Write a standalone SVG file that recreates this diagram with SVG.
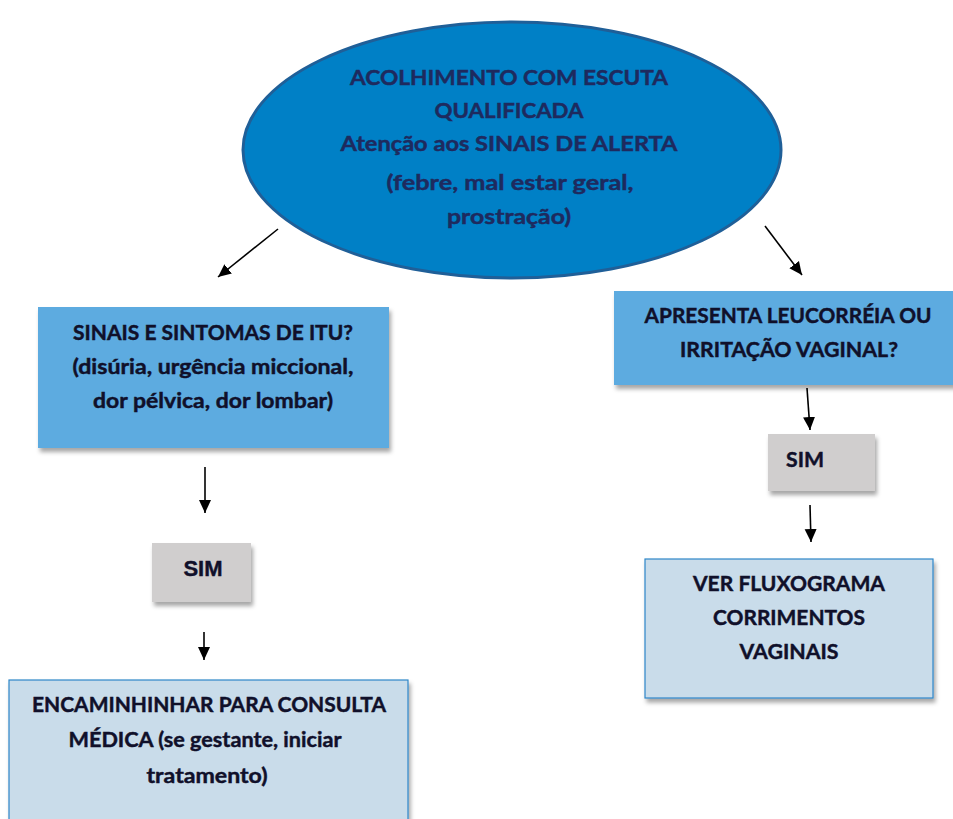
<svg xmlns="http://www.w3.org/2000/svg" width="953" height="819" viewBox="0 0 953 819">
  <defs>
    <filter id="sh" x="-10%" y="-10%" width="130%" height="140%">
      <feDropShadow dx="2" dy="4" stdDeviation="2" flood-color="#000" flood-opacity="0.35"/>
    </filter>
    <marker id="ah" markerUnits="userSpaceOnUse" markerWidth="14" markerHeight="14" viewBox="0 0 14 14" refX="13" refY="7" orient="auto">
      <path d="M0,1 L13,7 L0,13 Z" fill="#000"/>
    </marker>
  </defs>
  <style>
    .t { font-family: Lato, "Liberation Sans", sans-serif; font-weight: bold; font-size: 21.5px; text-anchor: middle; stroke-width: 0.45px; }
    .el { fill: #1e2a5e; stroke: #1e2a5e; }
    .bx { fill: #10102a; stroke: #10102a; }
    .conn line { stroke: #000; stroke-width: 1.6; marker-end: url(#ah); }
    .q { fill: #5dabe0; }
    .r { fill: #c9dcea; stroke: #2f86c8; stroke-width: 1.2; }
    .s { fill: #d0cece; }
  </style>
  <rect width="953" height="819" fill="#fff"/>

  <g id="acolhimento">
    <ellipse cx="512" cy="150" rx="269" ry="128" fill="#0080c6" stroke="#1f5f98" stroke-width="3"/>
    <text class="t el" x="509" y="85" textLength="318" lengthAdjust="spacingAndGlyphs">ACOLHIMENTO COM ESCUTA</text>
    <text class="t el" x="509" y="118" textLength="149" lengthAdjust="spacingAndGlyphs">QUALIFICADA</text>
    <text class="t el" x="509" y="151" textLength="337" lengthAdjust="spacingAndGlyphs">Atenção aos SINAIS DE ALERTA</text>
    <text class="t el" x="510" y="190" textLength="247" lengthAdjust="spacingAndGlyphs">(febre, mal estar geral,</text>
    <text class="t el" x="509" y="224" textLength="124" lengthAdjust="spacingAndGlyphs">prostração)</text>
  </g>

  <g id="itu">
    <rect class="q" x="38" y="307" width="351" height="141" filter="url(#sh)"/>
    <text class="t bx" x="213" y="340" textLength="280" lengthAdjust="spacingAndGlyphs">SINAIS E SINTOMAS DE ITU?</text>
    <text class="t bx" x="213" y="374" textLength="281" lengthAdjust="spacingAndGlyphs">(disúria, urgência miccional,</text>
    <text class="t bx" x="213" y="408" textLength="240" lengthAdjust="spacingAndGlyphs">dor pélvica, dor lombar)</text>
  </g>

  <g id="sim-left">
    <rect class="s" x="152" y="543" width="99" height="59" filter="url(#sh)"/>
    <text x="203" y="576" font-family="'Liberation Sans', Arial, sans-serif" font-weight="bold" font-size="22" text-anchor="middle" fill="#10102a" stroke="#10102a" stroke-width="0.4">SIM</text>
  </g>

  <g id="encaminhar">
    <rect class="r" x="9" y="680" width="399" height="150" filter="url(#sh)"/>
    <text class="t bx" x="209" y="712" textLength="354" lengthAdjust="spacingAndGlyphs">ENCAMINHINHAR PARA CONSULTA</text>
    <text class="t bx" x="205" y="747" textLength="273" lengthAdjust="spacingAndGlyphs">MÉDICA (se gestante, iniciar</text>
    <text class="t bx" x="207" y="783" textLength="121" lengthAdjust="spacingAndGlyphs">tratamento)</text>
  </g>

  <g id="leucorreia">
    <rect class="q" x="614" y="291" width="345" height="94" filter="url(#sh)"/>
    <text class="t bx" x="788" y="323" textLength="287" lengthAdjust="spacingAndGlyphs">APRESENTA LEUCORRÉIA OU</text>
    <text class="t bx" x="789" y="357" textLength="218" lengthAdjust="spacingAndGlyphs">IRRITAÇÃO VAGINAL?</text>
  </g>

  <g id="sim-right">
    <rect class="s" x="768" y="434" width="107" height="57" filter="url(#sh)"/>
    <text class="t bx" x="805" y="467" textLength="38" lengthAdjust="spacingAndGlyphs">SIM</text>
  </g>

  <g id="fluxograma">
    <rect class="r" x="645" y="559" width="288" height="139" filter="url(#sh)"/>
    <text class="t bx" x="789" y="591" textLength="192" lengthAdjust="spacingAndGlyphs">VER FLUXOGRAMA</text>
    <text class="t bx" x="789" y="625" textLength="152" lengthAdjust="spacingAndGlyphs">CORRIMENTOS</text>
    <text class="t bx" x="789" y="659" textLength="99" lengthAdjust="spacingAndGlyphs">VAGINAIS</text>
  </g>

  <g id="connectors" class="conn">
    <line x1="278" y1="229" x2="218" y2="277"/>
    <line x1="765" y1="226" x2="802" y2="275"/>
    <line x1="205" y1="467" x2="205" y2="513"/>
    <line x1="204" y1="632" x2="204" y2="660"/>
    <line x1="807" y1="388" x2="810" y2="430"/>
    <line x1="810" y1="505" x2="811" y2="542"/>
  </g>
</svg>
